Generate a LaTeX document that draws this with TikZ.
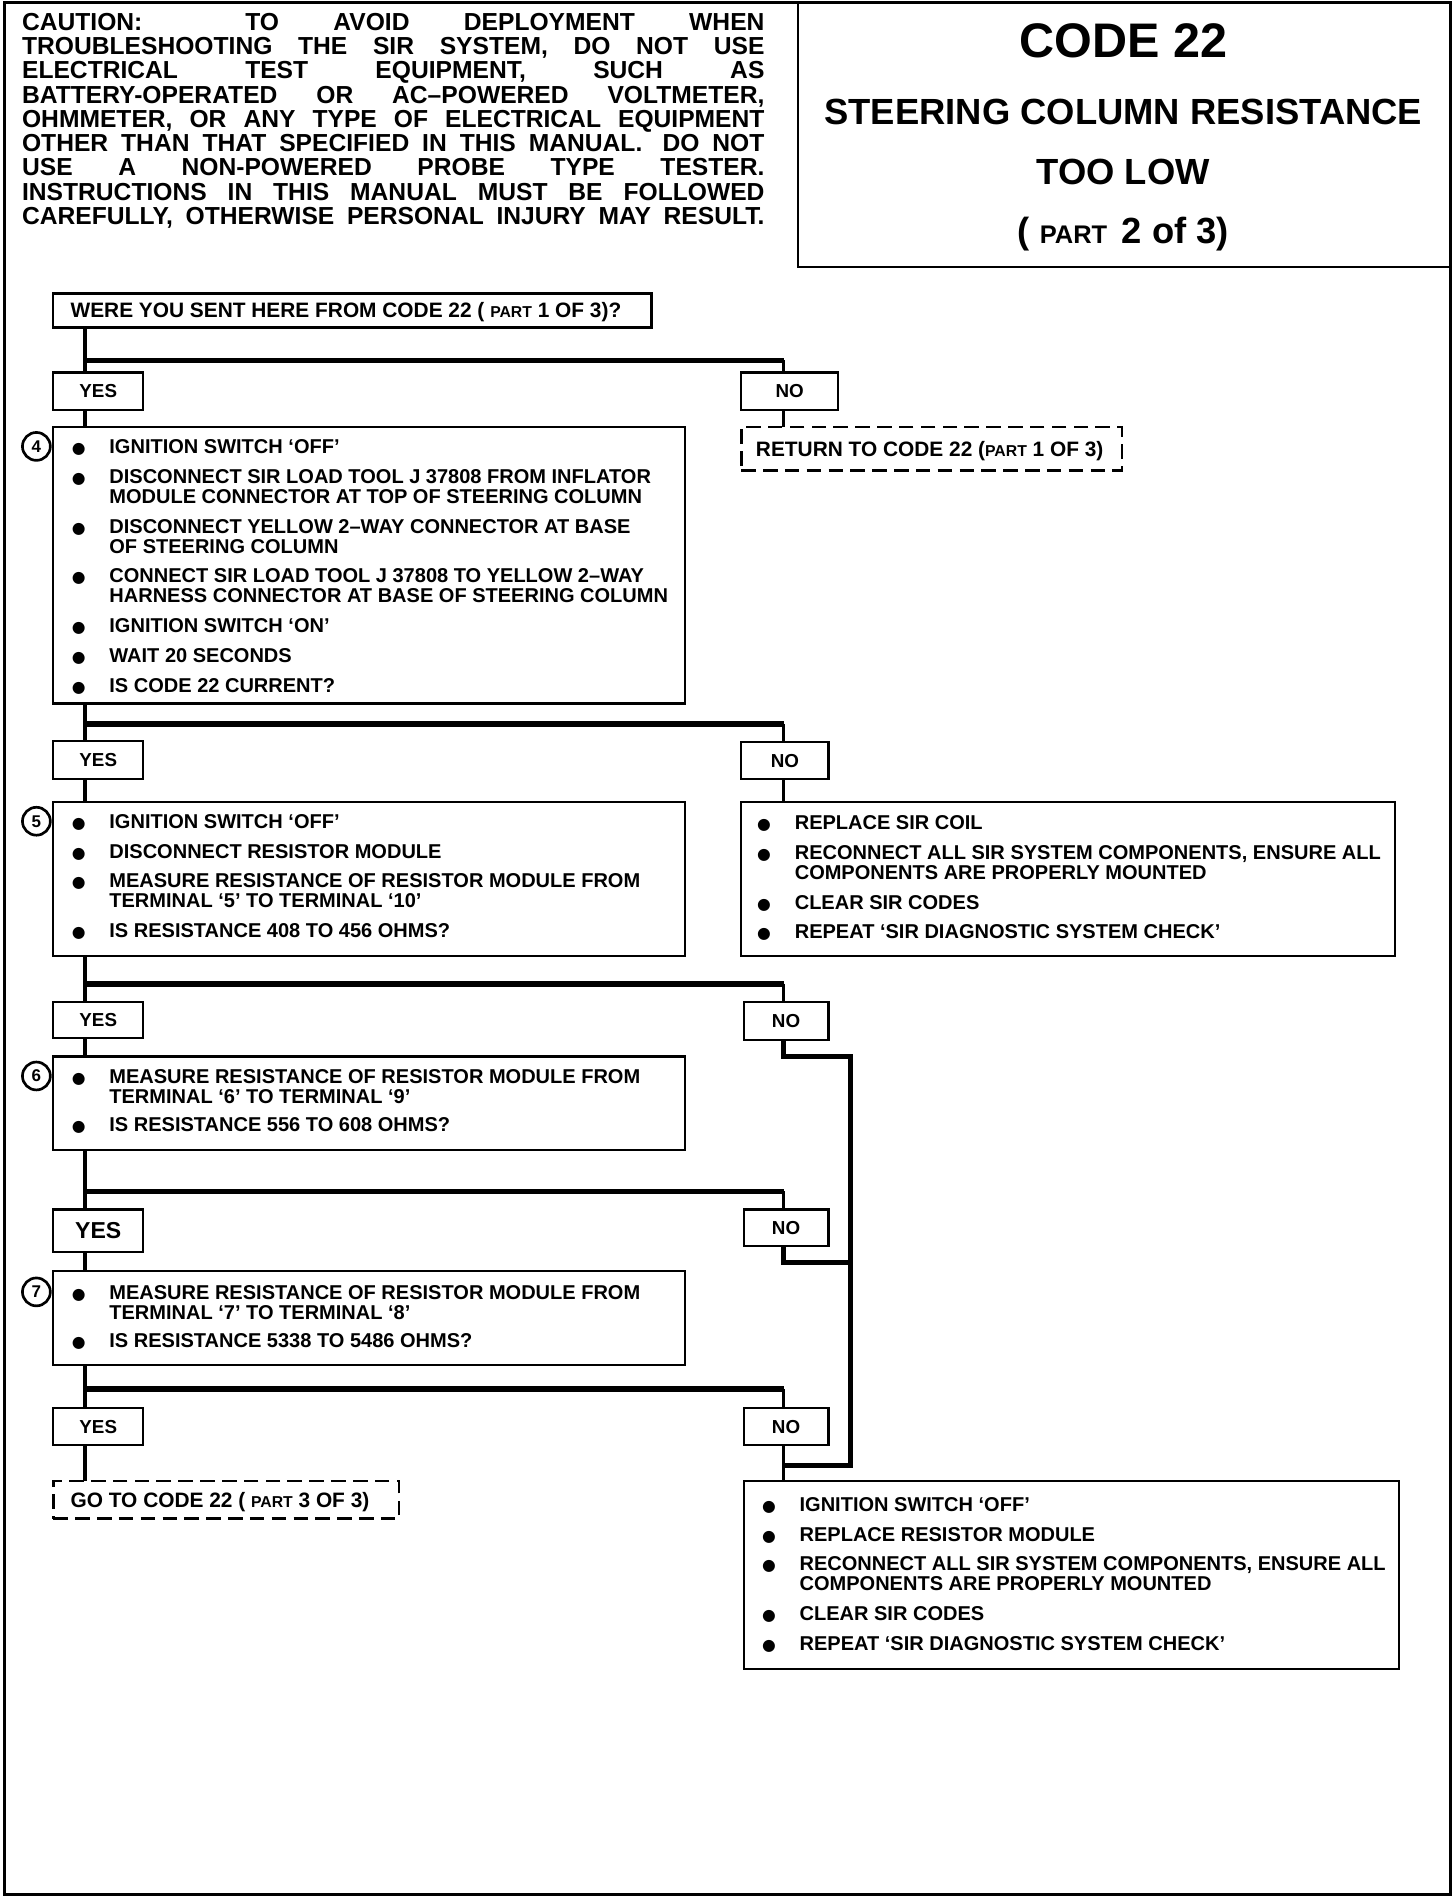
\documentclass[tikz,border=0pt]{standalone}
\usepackage{fontspec}
\setmainfont{Liberation Sans}
\newfontfamily\dejavu{DejaVu Sans}
\usetikzlibrary{calc}
\newcommand{\fsz}[2]{\fontsize{#1}{#2}\selectfont}
\newcommand{\smc}[2]{{\fontsize{#1}{#1}\selectfont #2}}
\newcommand{\bl}{\makebox[31pt][l]{{\dejavu\fontsize{13}{13}\selectfont ●}}}
\newcommand{\ind}{\hspace*{31pt}}
\newcommand{\cl}[1]{\makebox[612pt][s]{#1}}
\begin{document}
\begin{tikzpicture}[x=1pt,y=-1pt,
  box/.style={draw,line width=1.8pt,inner sep=0pt,outer sep=0pt,anchor=north west},
  dbox/.style={box,dash pattern=on 12pt off 6pt,line width=2.2pt},
  yn/.style={box,font=\bfseries\fsz{15.5}{15.5}},
  txt/.style={anchor=base west,inner sep=0pt,font=\bfseries\fsz{16.5}{16.5}},
  lbl/.style={anchor=base west,inner sep=0pt,font=\bfseries\fsz{17.2}{17.2}},
  ttl/.style={anchor=base,inner sep=0pt},
  num/.style={draw,circle,line width=2.2pt,minimum size=23pt,inner sep=0pt,fill=white,font=\bfseries\fsz{14}{14}},
  conn/.style={line width=3pt},
  split/.style={line width=4.5pt},
  rail/.style={line width=4pt,line join=miter},
]
\useasboundingbox (0,0) rectangle (1200,1563);
\draw[line width=2.5pt] (4,2) rectangle (1196,1562);
% title box
\node[box,minimum width=538pt,minimum height=218pt] (title) at (658,2) {};
\node[ttl,font=\bfseries\fsz{40}{40}] (t1) at (926,47) {CODE 22};
\node[ttl,font=\bfseries\fsz{30}{30}] (t2) at (926,103) {STEERING COLUMN RESISTANCE};
\node[ttl,font=\bfseries\fsz{30}{30}] (t3) at (926,152) {TOO LOW};
\node[ttl,font=\bfseries\fsz{30}{30}] (t4) at (926,201) {( \smc{21}{PART}\hspace{12pt}2 of 3)};
% caution
\node[anchor=base west,inner sep=0pt,font=\bfseries\fsz{20.3}{20}] (caution) at (18,25) {\parbox[t]{612pt}{%
\cl{CAUTION:\hspace{40pt} TO AVOID DEPLOYMENT WHEN}\\
\cl{TROUBLESHOOTING THE SIR SYSTEM, DO NOT USE}\\
\cl{ELECTRICAL TEST EQUIPMENT, SUCH AS}\\
\cl{BATTERY-OPERATED OR AC--POWERED VOLTMETER,}\\
\cl{OHMMETER, OR ANY TYPE OF ELECTRICAL EQUIPMENT}\\
\cl{OTHER THAN THAT SPECIFIED IN THIS MANUAL.\hspace{6pt} DO NOT}\\
\cl{USE A NON-POWERED PROBE TYPE TESTER.}\\
\cl{INSTRUCTIONS IN THIS MANUAL MUST BE FOLLOWED}\\
\cl{CAREFULLY, OTHERWISE PERSONAL INJURY MAY RESULT.}}};
% question
\node[box,minimum width=493pt,minimum height=28pt] (q) at (44,242) {};
\node[lbl] (qt) at (58,262) {WERE YOU SENT HERE FROM CODE 22 ( \smc{13}{PART} 1 OF 3)?};
% level 1
\node[yn,minimum width=74pt,minimum height=31pt] (y1) at (44,307) {YES};
\node[yn,minimum width=80pt,minimum height=31pt] (n1) at (611,307) {NO};
\node[dbox,minimum width=314pt,minimum height=36pt] (ret) at (611,352) {};
\node[lbl] (rett) at (623,376) {RETURN TO CODE 22 (\smc{13}{PART} 1 OF 3)};
\node[box,minimum width=521pt,minimum height=228pt] (b4) at (44,352) {};
\node[num] (c4) at (30,368) {4};
\node[txt] (b4t) at (59,374) {\parbox[t]{560pt}{%
\bl IGNITION SWITCH `OFF'\\[8pt]
\bl DISCONNECT SIR LOAD TOOL J 37808 FROM INFLATOR\\
\ind MODULE CONNECTOR AT TOP OF STEERING COLUMN\\[8pt]
\bl DISCONNECT YELLOW 2--WAY CONNECTOR AT BASE\\
\ind OF STEERING COLUMN\\[8pt]
\bl CONNECT SIR LOAD TOOL J 37808 TO YELLOW 2--WAY\\
\ind HARNESS CONNECTOR AT BASE OF STEERING COLUMN\\[8pt]
\bl IGNITION SWITCH `ON'\\[8pt]
\bl WAIT 20 SECONDS\\[8pt]
\bl IS CODE 22 CURRENT?}};
% level 2
\node[yn,minimum width=74pt,minimum height=31pt] (y2) at (44,611) {YES};
\node[yn,minimum width=72pt,minimum height=30pt] (n2) at (611,612) {NO};
\node[box,minimum width=521pt,minimum height=127pt] (b5) at (44,661) {};
\node[num] (c5) at (30,677) {5};
\node[txt] (b5t) at (59,683) {\parbox[t]{560pt}{%
\bl IGNITION SWITCH `OFF'\\[8pt]
\bl DISCONNECT RESISTOR MODULE\\[8pt]
\bl MEASURE RESISTANCE OF RESISTOR MODULE FROM\\
\ind TERMINAL `5' TO TERMINAL `10'\\[8pt]
\bl IS RESISTANCE 408 TO 456 OHMS?}};
\node[box,minimum width=539pt,minimum height=127pt] (r2) at (611,661) {};
\node[txt] (r2t) at (624,684) {\parbox[t]{560pt}{%
\bl REPLACE SIR COIL\\[8pt]
\bl RECONNECT ALL SIR SYSTEM COMPONENTS, ENSURE ALL\\
\ind COMPONENTS ARE PROPERLY MOUNTED\\[8pt]
\bl CLEAR SIR CODES\\[8pt]
\bl REPEAT `SIR DIAGNOSTIC SYSTEM CHECK'}};
% level 3
\node[yn,minimum width=74pt,minimum height=30pt] (y3) at (44,826) {YES};
\node[yn,minimum width=70pt,minimum height=31pt] (n3) at (613,826) {NO};
\node[box,minimum width=521pt,minimum height=77pt] (b6) at (44,871) {};
\node[num] (c6) at (30,887) {6};
\node[txt] (b6t) at (59,893) {\parbox[t]{560pt}{%
\bl MEASURE RESISTANCE OF RESISTOR MODULE FROM\\
\ind TERMINAL `6' TO TERMINAL `9'\\[7pt]
\bl IS RESISTANCE 556 TO 608 OHMS?}};
% level 4
\node[box,minimum width=74pt,minimum height=35pt,font=\bfseries\fsz{19}{19}] (y4) at (44,997) {YES};
\node[yn,minimum width=70pt,minimum height=30pt] (n4) at (613,997) {NO};
\node[box,minimum width=521pt,minimum height=77pt] (b7) at (44,1048) {};
\node[num] (c7) at (30,1065) {7};
\node[txt] (b7t) at (59,1071) {\parbox[t]{560pt}{%
\bl MEASURE RESISTANCE OF RESISTOR MODULE FROM\\
\ind TERMINAL `7' TO TERMINAL `8'\\[7pt]
\bl IS RESISTANCE 5338 TO 5486 OHMS?}};
% level 5
\node[yn,minimum width=74pt,minimum height=30pt] (y5) at (44,1161) {YES};
\node[yn,minimum width=70pt,minimum height=30pt] (n5) at (613,1161) {NO};
\node[dbox,minimum width=285pt,minimum height=31pt] (go3) at (44,1221) {};
\node[lbl] (go3t) at (58,1243) {GO TO CODE 22 ( \smc{13}{PART} 3 OF 3)};
\node[box,minimum width=540pt,minimum height=155pt] (r5) at (613,1221) {};
\node[txt] (r5t) at (628,1246) {\parbox[t]{560pt}{%
\bl IGNITION SWITCH `OFF'\\[8pt]
\bl REPLACE RESISTOR MODULE\\[8pt]
\bl RECONNECT ALL SIR SYSTEM COMPONENTS, ENSURE ALL\\
\ind COMPONENTS ARE PROPERLY MOUNTED\\[8pt]
\bl CLEAR SIR CODES\\[8pt]
\bl REPEAT `SIR DIAGNOSTIC SYSTEM CHECK'}};
% junctions
\coordinate (j1) at (70,297);  \coordinate (k1) at (646,297);
\coordinate (j2) at (70,597);  \coordinate (k2) at (646,597);
\coordinate (j3) at (70,811);  \coordinate (k3) at (646,811);
\coordinate (j4) at (70,982);  \coordinate (k4) at (646,982);
\coordinate (j5) at (70,1145); \coordinate (k5) at (646,1145);
\coordinate (m3) at (646,871); \coordinate (rt3) at (701,871);
\coordinate (m4) at (646,1041); \coordinate (rt4) at (701,1041);
\coordinate (m5) at (646,1208); \coordinate (rb) at (701,1208);
% connectors
\draw[conn] (q.south -| j1) -- (y1.north -| j1);
\draw[split] (j1) -- (k1);
\draw[conn] (k1) -- (n1.north -| k1);
\draw[conn] (y1.south -| j1) -- (b4.north -| j1);
\draw[conn] (n1.south -| k1) -- (ret.north -| k1);
\draw[conn] (b4.south -| j2) -- (y2.north -| j2);
\draw[split] (j2) -- (k2);
\draw[conn] (k2) -- (n2.north -| k2);
\draw[conn] (y2.south -| j2) -- (b5.north -| j2);
\draw[conn] (n2.south -| k2) -- (r2.north -| k2);
\draw[conn] (b5.south -| j3) -- (y3.north -| j3);
\draw[split] (j3) -- (k3);
\draw[conn] (k3) -- (n3.north -| k3);
\draw[conn] (y3.south -| j3) -- (b6.north -| j3);
\draw[rail] (n3.south -| m3) -- (m3) -- (rt3) -- (rb) -- (m5);
\draw[conn] (b6.south -| j4) -- (y4.north -| j4);
\draw[split] (j4) -- (k4);
\draw[conn] (k4) -- (n4.north -| k4);
\draw[conn] (y4.south -| j4) -- (b7.north -| j4);
\draw[rail] (n4.south -| m4) -- (m4) -- (rt4);
\draw[conn] (b7.south -| j5) -- (y5.north -| j5);
\draw[split] (j5) -- (k5);
\draw[conn] (k5) -- (n5.north -| k5);
\draw[conn] (y5.south -| j5) -- (go3.north -| j5);
\draw[conn] (n5.south -| k5) -- (r5.north -| k5);
\end{tikzpicture}
\end{document}
